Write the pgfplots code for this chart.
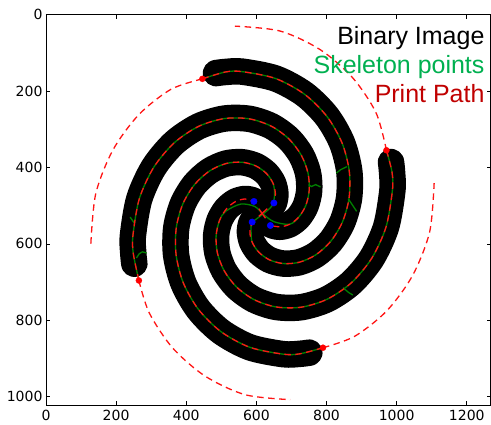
\documentclass[border=0pt]{standalone}
\usepackage{pgfplots}
\pgfplotsset{compat=1.18}
\usepackage{fontspec}
\setmainfont{DejaVu Sans}
\newfontfamily\libsans{Liberation Sans}
\definecolor{skel}{RGB}{0,128,0}
\definecolor{txtgreen}{RGB}{0,176,80}
\definecolor{txtred}{RGB}{192,0,0}
\definecolor{pathred}{RGB}{255,20,20}
\tikzset{printpath/.style={pathred, line width=1.3pt, dash pattern=on 6.5pt off 4.5pt},
  arm/.style={black, line width=26.5pt, line cap=round, line join=round, smooth}}
\begin{document}
\begin{tikzpicture}
\begin{axis}[name=ax, scale only axis, width=445pt, height=391pt,
  xmin=0, xmax=1268, ymin=0, ymax=1023, y dir=reverse,
  xtick={0,200,...,1200}, ytick={0,200,...,1000},
  tick align=inside, major tick length=4pt,
  tick style={black, line width=0.6pt},
  axis line style={line width=0.8pt},
  ticklabel style={font=\fontsize{14}{16}\selectfont},
  /pgf/number format/assume math mode=true,
  /pgf/number format/1000 sep={},
  xticklabel style={yshift=-1.3pt},
]
% binary image: four thick arms
\addplot[arm] coordinates {
(485,153) (512,150) (559.4,149.1) (655,167.2) (737.3,208.3) (801.4,266.6) (844.3,335.7) (864.9,409.1) (864.4,480) (845.4,542.9) (812,593.5) (769.3,628.9) (722.6,648.2) (677.1,651.7) (637.5,642) (607.2,622.1) (588.3,596.3) (581.6,569.2) (586,544.9) (599.5,527.3) (618,519)};
\addplot[arm] coordinates {
(984,386) (987,413) (987.9,460.4) (969.8,556) (928.7,638.3) (870.4,702.4) (801.3,745.3) (727.9,765.9) (657,765.4) (594.1,746.4) (543.5,713) (508.1,670.3) (488.8,623.6) (485.3,578.1) (495,538.5) (514.9,508.2) (540.7,489.3) (567.8,482.6) (592.1,487) (609.7,500.5) (618,519)};
\addplot[arm] coordinates {
(751,885) (724,888) (676.6,888.9) (581,870.8) (498.7,829.7) (434.6,771.4) (391.7,702.3) (371.1,628.9) (371.6,558) (390.6,495.1) (424,444.5) (466.7,409.1) (513.4,389.8) (558.9,386.3) (598.5,396) (628.8,415.9) (647.7,441.7) (654.4,468.8) (650,493.1) (636.5,510.7) (618,519)};
\addplot[arm] coordinates {
(252,652) (249,625) (248.1,577.6) (266.2,482) (307.3,399.7) (365.6,335.6) (434.7,292.7) (508.1,272.1) (579,272.6) (641.9,291.6) (692.5,325) (727.9,367.7) (747.2,414.4) (750.7,459.9) (741,499.5) (721.1,529.8) (695.3,548.7) (668.2,555.4) (643.9,551) (626.3,537.5) (618,519)};
% skeleton
\addplot[skel, line width=1.3pt, smooth] coordinates {
(446,168) (512,150) (559.4,149.1) (655,167.2) (737.3,208.3) (801.4,266.6) (844.3,335.7) (864.9,409.1) (864.4,480) (845.4,542.9) (812,593.5) (769.3,628.9) (722.6,648.2) (677.1,651.7) (637.5,642) (607.2,622.1) (588.3,596.3) (585,570) (588,545) (619,522) (645,500) (652,471) (647.7,441.7) (628.8,415.9) (598.5,396) (558.9,386.3) (513.4,389.8) (466.7,409.1) (424,444.5) (390.6,495.1) (371.6,558) (371.1,628.9) (391.7,702.3) (434.6,771.4) (498.7,829.7) (581,870.8) (676.6,888.9) (724,888) (790,872)};
\addplot[skel, line width=1.3pt, smooth] coordinates {
(971,355) (987,413) (987.9,460.4) (969.8,556) (928.7,638.3) (870.4,702.4) (801.3,745.3) (727.9,765.9) (657,765.4) (594.1,746.4) (543.5,713) (508.1,670.3) (488.8,623.6) (485.3,578.1) (495,538.5) (512,515) (555,496) (595,502) (619,522) (650,542) (695.3,548.7) (721.1,529.8) (741,499.5) (750.7,459.9) (747.2,414.4) (727.9,367.7) (692.5,325) (641.9,291.6) (579,272.6) (508.1,272.1) (434.7,292.7) (365.6,335.6) (307.3,399.7) (266.2,482) (248.1,577.6) (249,625) (265,696)};
% skeleton spurs
\addplot[skel, line width=1.3pt] coordinates {(240,530) (253,547)};
\addplot[skel, line width=1.3pt] coordinates {(258,637) (266,626) (275,621) (287,624)};
\addplot[skel, line width=1.3pt] coordinates {(749,445) (757,450) (769,445) (783,451)};
\addplot[skel, line width=1.3pt] coordinates {(858,398) (840,406) (828,415)};
\addplot[skel, line width=1.3pt] coordinates {(862,482) (886,515)};
\addplot[skel, line width=1.3pt] coordinates {(847,715) (864,728) (875,734)};
% print path along the arms
\addplot[printpath, smooth] coordinates {
(446,168) (512,150) (559.4,149.1) (655,167.2) (737.3,208.3) (801.4,266.6) (844.3,335.7) (864.9,409.1) (864.4,480) (845.4,542.9) (812,593.5) (769.3,628.9) (722.6,648.2) (677.1,651.7) (637.5,642) (607.2,622.1) (588.3,596.3) (581.6,569.2) (588,543)};
\addplot[printpath, smooth] coordinates {
(971,355) (987,413) (987.9,460.4) (969.8,556) (928.7,638.3) (870.4,702.4) (801.3,745.3) (727.9,765.9) (657,765.4) (594.1,746.4) (543.5,713) (508.1,670.3) (488.8,623.6) (485.3,578.1) (495,538.5) (514.9,508.2) (540.7,489.3) (567.8,482.6) (593,489)};
\addplot[printpath, smooth] coordinates {
(790,872) (724,888) (676.6,888.9) (581,870.8) (498.7,829.7) (434.6,771.4) (391.7,702.3) (371.1,628.9) (371.6,558) (390.6,495.1) (424,444.5) (466.7,409.1) (513.4,389.8) (558.9,386.3) (598.5,396) (628.8,415.9) (647.7,441.7) (654.4,468.8) (650,493)};
\addplot[printpath, smooth] coordinates {
(265,696) (249,625) (248.1,577.6) (266.2,482) (307.3,399.7) (365.6,335.6) (434.7,292.7) (508.1,272.1) (579,272.6) (641.9,291.6) (692.5,325) (727.9,367.7) (747.2,414.4) (750.7,459.9) (741,499.5) (721.1,529.8) (695.3,548.7) (668.2,555.4) (640,552)};
% print path: outer travel arcs
\addplot[printpath, smooth] coordinates {(446,168) (356.1,195.6) (264.5,262.1) (190.6,354.9) (141.9,469) (128,600)};
\addplot[printpath, smooth] coordinates {(971,355) (941.4,257.1) (874.9,165.5) (782.1,91.6) (668,42.9) (539,30)};
\addplot[printpath, smooth] coordinates {(790,872) (879.9,842.4) (971.5,775.9) (1045.4,683.1) (1094.1,569) (1107,441)};
\addplot[printpath, smooth] coordinates {(265,696) (294.6,780.9) (361.1,872.5) (453.9,946.4) (568,995.1) (696,1008)};
% print path crossing at the centre
\addplot[pathred, line width=1.3pt] coordinates {(607,508) (626,533)};
\addplot[pathred, line width=1.3pt] coordinates {(631,508) (607,528)};
% end points
\addplot[only marks, mark=*, mark size=3pt, color=red] coordinates {(446,168) (971,355) (790,872) (265,696)};
\addplot[only marks, mark=*, mark size=3.2pt, color=blue] coordinates {(593,489) (650,493) (588,543) (640,552)};
% labels
\node[anchor=base east, inner sep=0pt, font=\libsans\fontsize{25}{30}\selectfont] at (axis cs:1251,79) {Binary Image};
\node[anchor=base east, inner sep=0pt, text=txtgreen, font=\libsans\fontsize{25}{30}\selectfont] at (axis cs:1251,155) {Skeleton points};
\node[anchor=base east, inner sep=0pt, text=txtred, font=\libsans\fontsize{25}{30}\selectfont] at (axis cs:1251,231) {Print Path};
\end{axis}
\pgfresetboundingbox
\useasboundingbox ([xshift=-46pt,yshift=-19pt]ax.south west) rectangle ([xshift=0.4pt,yshift=14.7pt]ax.north east);
\end{tikzpicture}
\end{document}
